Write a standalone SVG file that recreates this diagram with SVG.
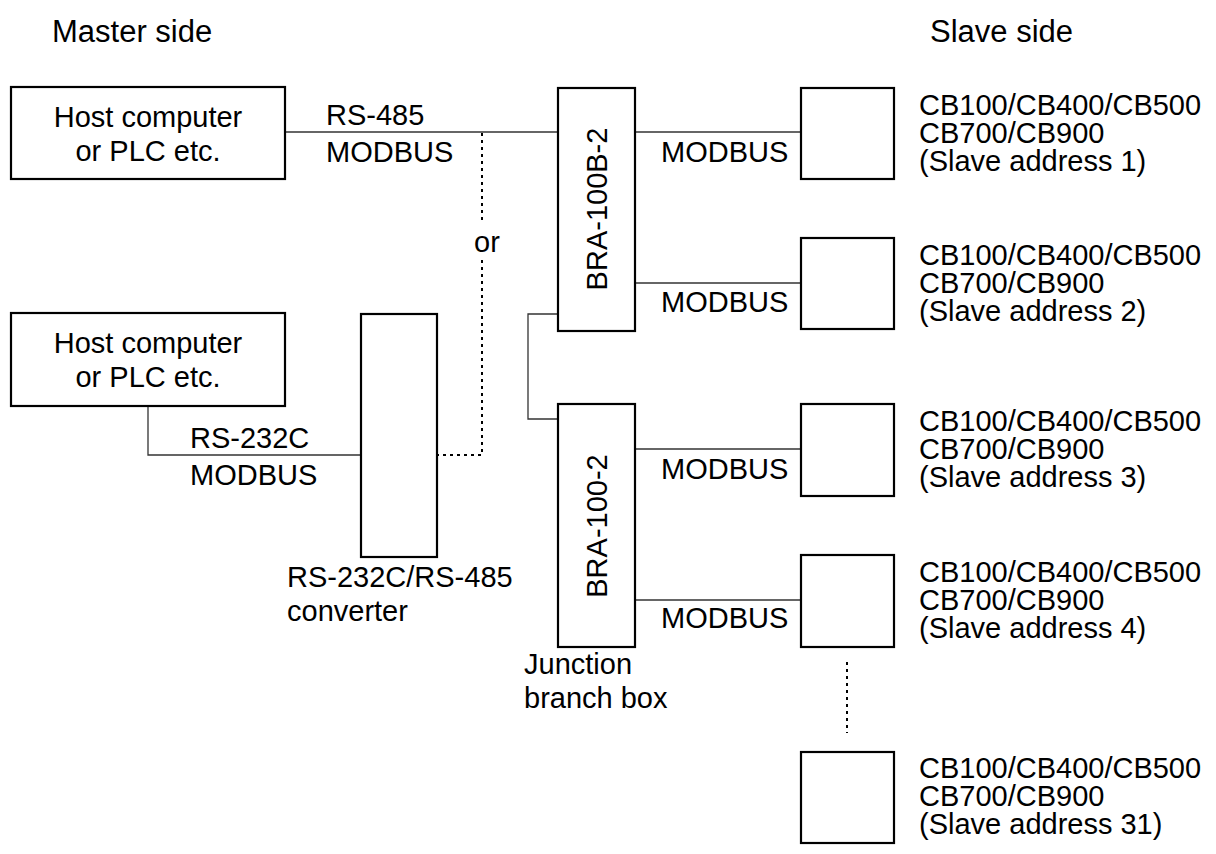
<svg xmlns="http://www.w3.org/2000/svg" width="1216" height="854" viewBox="0 0 1216 854">
<style>
text{font-family:"Liberation Sans",Arial,sans-serif;font-size:29px;fill:#000}
.hdr{font-size:31px}
.box{fill:#fff;stroke:#000;stroke-width:2.2}
.ln{fill:none;stroke:#333;stroke-width:1.3}
.dot{fill:none;stroke:#000;stroke-width:2;stroke-dasharray:3 4}
.mid{text-anchor:middle}
</style>
<rect width="1216" height="854" fill="#fff"/>
<text class="hdr" x="52" y="42">Master side</text>
<text class="hdr" x="930" y="42">Slave side</text>

<g id="connectors">
<polyline class="ln" points="285,132 558,132"/>
<polyline class="dot" points="482,133 482,222"/>
<polyline class="dot" points="482,260 482,455 437,455"/>
<polyline class="ln" points="148,406 148,455 361,455"/>
<polyline class="ln" points="558,314 528,314 528,419 558,419"/>
<polyline class="ln" points="635,132 801,132"/>
<polyline class="ln" points="635,283 801,283"/>
<polyline class="ln" points="635,449 801,449"/>
<polyline class="ln" points="635,600 801,600"/>
<polyline class="dot" points="847,662 847,733"/>
<text x="326" y="125">RS-485</text>
<text x="326" y="162">MODBUS</text>
<text x="474" y="252">or</text>
<text x="190" y="448">RS-232C</text>
<text x="190" y="485">MODBUS</text>
<text x="661" y="162">MODBUS</text>
<text x="661" y="312">MODBUS</text>
<text x="661" y="479">MODBUS</text>
<text x="661" y="628">MODBUS</text>
</g>

<g id="host1">
<rect class="box" x="11" y="87" width="274" height="92"/>
<text class="mid" x="148" y="127">Host computer</text>
<text class="mid" x="148" y="161">or PLC etc.</text>
</g>
<g id="host2">
<rect class="box" x="11" y="313" width="274" height="93"/>
<text class="mid" x="148" y="353">Host computer</text>
<text class="mid" x="148" y="387">or PLC etc.</text>
</g>
<g id="converter">
<rect class="box" x="361" y="314" width="76" height="243"/>
<text x="287" y="587">RS-232C/RS-485</text>
<text x="287" y="621">converter</text>
</g>
<g id="bra100b2">
<rect class="box" x="558" y="88" width="77" height="243"/>
<text class="mid" transform="translate(596.5,209) rotate(-90)" x="0" y="10.4">BRA-100B-2</text>
</g>
<g id="bra1002">
<rect class="box" x="558" y="404" width="77" height="243"/>
<text class="mid" transform="translate(596.5,526) rotate(-90)" x="0" y="10.4">BRA-100-2</text>
<text x="524" y="674">Junction</text>
<text x="524" y="708">branch box</text>
</g>
<g id="slave1">
<rect class="box" x="801" y="88" width="93" height="91"/>
<text x="919" y="115">CB100/CB400/CB500</text>
<text x="919" y="143">CB700/CB900</text>
<text x="919" y="171">(Slave address 1)</text>
</g>
<g id="slave2">
<rect class="box" x="801" y="238" width="93" height="91"/>
<text x="919" y="265">CB100/CB400/CB500</text>
<text x="919" y="293">CB700/CB900</text>
<text x="919" y="321">(Slave address 2)</text>
</g>
<g id="slave3">
<rect class="box" x="801" y="404" width="93" height="92"/>
<text x="919" y="431">CB100/CB400/CB500</text>
<text x="919" y="459">CB700/CB900</text>
<text x="919" y="487">(Slave address 3)</text>
</g>
<g id="slave4">
<rect class="box" x="801" y="555" width="93" height="92"/>
<text x="919" y="582">CB100/CB400/CB500</text>
<text x="919" y="610">CB700/CB900</text>
<text x="919" y="638">(Slave address 4)</text>
</g>
<g id="slave31">
<rect class="box" x="801" y="752" width="93" height="91"/>
<text x="919" y="778">CB100/CB400/CB500</text>
<text x="919" y="806">CB700/CB900</text>
<text x="919" y="834">(Slave address 31)</text>
</g>
</svg>
